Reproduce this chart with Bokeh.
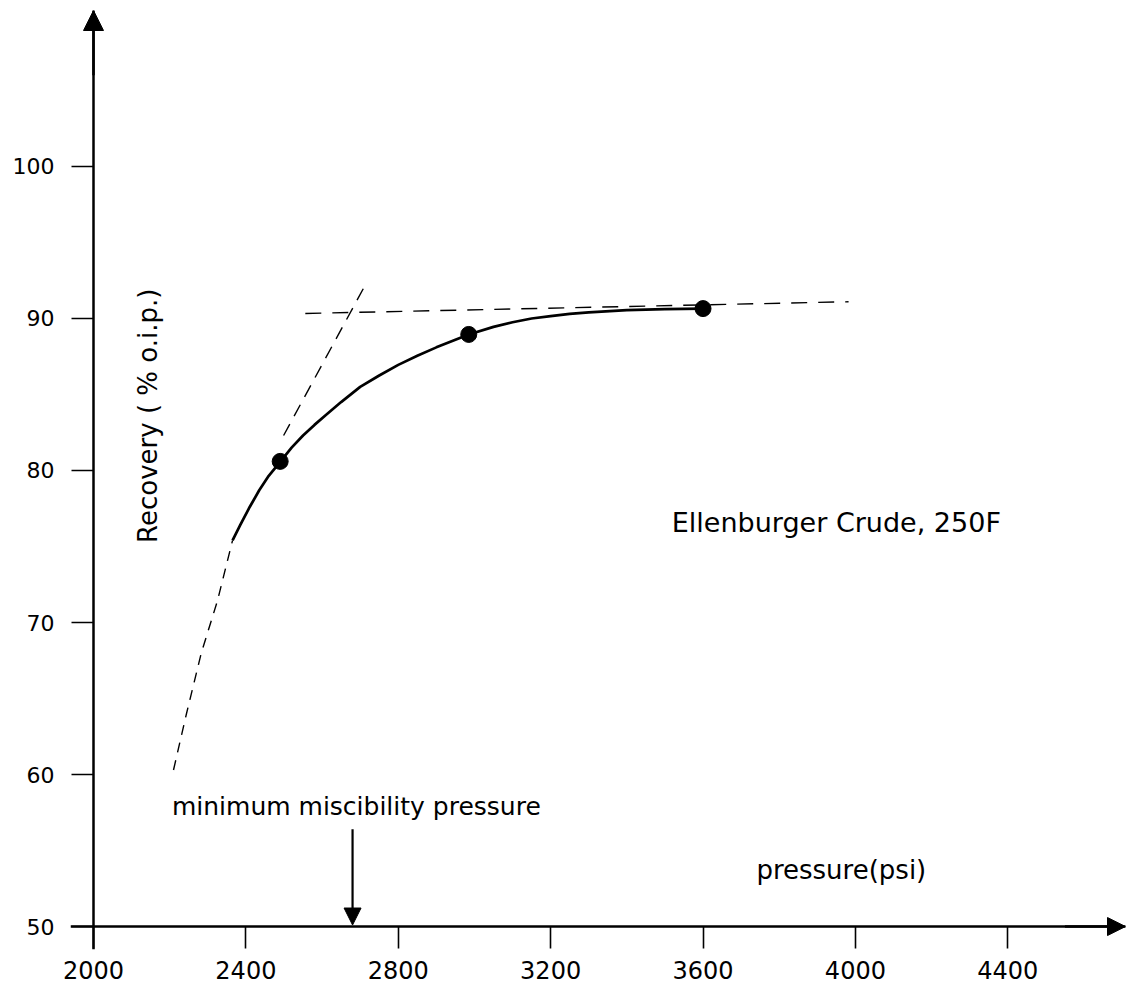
from math import pi

from bokeh.plotting import figure
from bokeh.models import FixedTicker, Arrow, NormalHead, Label, LinearAxis
from bokeh.embed import file_html
from bokeh.resources import INLINE

# ---- data ----
x_ticks = [2000, 2400, 2800, 3200, 3600, 4000, 4400]
y_ticks = [50, 60, 70, 80, 90, 100]

measured_pressure = [2490, 2985, 3600]
measured_recovery = [80.6, 88.95, 90.65]

curve_pressure = [2365, 2385, 2410, 2435, 2460, 2491, 2520, 2550, 2580, 2610,
                  2650, 2700, 2750, 2800, 2850, 2900, 2950, 2985, 3050, 3100,
                  3150, 3200, 3250, 3300, 3400, 3500, 3600]
curve_recovery = [75.4, 76.4, 77.6, 78.7, 79.65, 80.6, 81.5, 82.3, 83.0, 83.65,
                  84.5, 85.5, 86.25, 86.95, 87.55, 88.1, 88.6, 88.95, 89.45, 89.75,
                  90.0, 90.15, 90.3, 90.4, 90.55, 90.62, 90.65]

extrap_pressure = [2210, 2244, 2283, 2325, 2365]
extrap_recovery = [60.3, 64.0, 68.0, 71.4, 75.4]

tangent_pressure = [2499, 2709]
tangent_recovery = [82.3, 92.0]

plateau_pressure = [2556, 3982]
plateau_recovery = [90.33, 91.1]

mmp_pressure = 2680
mmp_arrow_top = 56.4

# axis origin and where the axis arrows end
x_axis_origin = 2000
y_axis_origin = 50
x_arrow_tip = 4709
y_arrow_tip = 110.26

FONT = "DejaVu Sans"
INK = "#000000"

p = figure(width=1130, height=987, x_range=(1939.6, x_arrow_tip),
           y_range=(48.49, y_arrow_tip),
           output_backend="svg", toolbar_location=None,
           min_border_left=70, min_border_right=5, min_border_top=10,
           min_border_bottom=38, background_fill_color="white",
           border_fill_color="white", outline_line_color=None)

p.xgrid.visible = False
p.ygrid.visible = False

# default left / below axes carry only the tick labels
for ax in (p.xaxis[0], p.yaxis[0]):
    ax.axis_line_color = None
    ax.major_tick_line_color = None
    ax.minor_tick_line_color = None
    ax.major_tick_in = 0
    ax.major_tick_out = 0
    ax.minor_tick_in = 0
    ax.minor_tick_out = 0
    ax.major_label_text_font = FONT
    ax.major_label_text_color = INK
p.xaxis[0].ticker = FixedTicker(ticks=x_ticks)
p.yaxis[0].ticker = FixedTicker(ticks=y_ticks)
p.xaxis[0].major_label_text_font_size = "24px"
p.xaxis[0].major_label_standoff = 11
p.yaxis[0].major_label_text_font_size = "22px"
p.yaxis[0].major_label_standoff = 16

# axis lines with their tick marks, fixed at the origin (no labels)
y_line_axis = LinearAxis(fixed_location=x_axis_origin,
                         ticker=FixedTicker(ticks=[], minor_ticks=y_ticks),
                         axis_line_width=2.5, axis_line_color=INK,
                         major_tick_line_color=None,
                         minor_tick_line_color=INK, minor_tick_line_width=1.6,
                         minor_tick_in=22, minor_tick_out=0,
                         major_tick_in=0, major_tick_out=0)
x_line_axis = LinearAxis(fixed_location=y_axis_origin,
                         ticker=FixedTicker(ticks=[], minor_ticks=x_ticks),
                         axis_line_width=2.5, axis_line_color=INK,
                         major_tick_line_color=None,
                         minor_tick_line_color=INK, minor_tick_line_width=1.6,
                         minor_tick_in=22, minor_tick_out=0,
                         major_tick_in=0, major_tick_out=0)
p.add_layout(y_line_axis, "right")
p.add_layout(x_line_axis, "above")

# axis arrow heads
p.add_layout(Arrow(end=NormalHead(size=20, fill_color=INK, line_color=INK),
                   x_start=x_axis_origin, y_start=106,
                   x_end=x_axis_origin, y_end=y_arrow_tip,
                   line_width=2.5, line_color=INK))
p.add_layout(Arrow(end=NormalHead(size=18, fill_color=INK, line_color=INK),
                   x_start=4550, y_start=y_axis_origin,
                   x_end=x_arrow_tip, y_end=y_axis_origin,
                   line_width=2.5, line_color=INK))

# dashed construction lines
p.line(extrap_pressure, extrap_recovery, line_color=INK, line_width=1.4,
       line_dash="10 8")
p.line(tangent_pressure, tangent_recovery, line_color=INK, line_width=1.4,
       line_dash="13 9")
p.line(plateau_pressure, plateau_recovery, line_color=INK, line_width=1.4,
       line_dash="16 11")

# solid fitted curve and measured points
p.line(curve_pressure, curve_recovery, line_color=INK, line_width=2.7,
       line_join="round")
p.scatter(measured_pressure, measured_recovery, size=16, fill_color=INK,
          line_color=INK)

# minimum miscibility pressure arrow
p.add_layout(Arrow(end=NormalHead(size=17, fill_color=INK, line_color=INK),
                   x_start=mmp_pressure, y_start=mmp_arrow_top,
                   x_end=mmp_pressure, y_end=50.1,
                   line_width=2.2, line_color=INK))

# texts
p.add_layout(Label(x=2144, y=83.6, text="Recovery ( % o.i.p.)", angle=pi / 2,
                   text_align="center", text_baseline="middle",
                   text_font=FONT, text_font_size="26px", text_color=INK))
p.add_layout(Label(x=2690, y=57.9, text="minimum miscibility pressure",
                   text_align="center", text_baseline="middle",
                   text_font=FONT, text_font_size="25px", text_color=INK))
p.add_layout(Label(x=3963, y=53.7, text="pressure(psi)",
                   text_align="center", text_baseline="middle",
                   text_font=FONT, text_font_size="26px", text_color=INK))
p.add_layout(Label(x=3950, y=76.6, text="Ellenburger Crude, 250F",
                   text_align="center", text_baseline="middle",
                   text_font=FONT, text_font_size="27px", text_color=INK))

open("out.html", "w").write(file_html(p, INLINE))
